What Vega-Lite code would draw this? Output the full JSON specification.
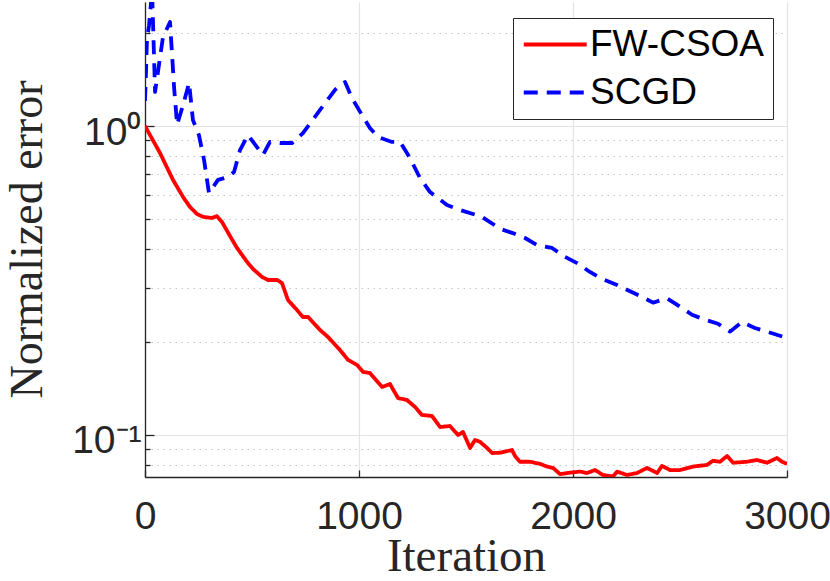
{
  "$schema": "https://vega.github.io/schema/vega-lite/v6.json",
  "autosize": {"type": "none"},
  "padding": {"left": 145, "top": 2, "right": 43, "bottom": 104},
  "width": 642,
  "height": 475,
  "background": "white",
  "config": {"view": {"stroke": null}},
  "data": {
    "values": [
      {"series": "FW-CSOA", "iter": 0, "err": 1.0},
      {"series": "FW-CSOA", "iter": 70, "err": 0.818},
      {"series": "FW-CSOA", "iter": 131, "err": 0.669},
      {"series": "FW-CSOA", "iter": 178, "err": 0.589},
      {"series": "FW-CSOA", "iter": 210, "err": 0.547},
      {"series": "FW-CSOA", "iter": 243, "err": 0.519},
      {"series": "FW-CSOA", "iter": 271, "err": 0.508},
      {"series": "FW-CSOA", "iter": 313, "err": 0.504},
      {"series": "FW-CSOA", "iter": 336, "err": 0.511},
      {"series": "FW-CSOA", "iter": 360, "err": 0.489},
      {"series": "FW-CSOA", "iter": 397, "err": 0.4406},
      {"series": "FW-CSOA", "iter": 430, "err": 0.4029},
      {"series": "FW-CSOA", "iter": 481, "err": 0.3601},
      {"series": "FW-CSOA", "iter": 505, "err": 0.3445},
      {"series": "FW-CSOA", "iter": 547, "err": 0.3246},
      {"series": "FW-CSOA", "iter": 575, "err": 0.3174},
      {"series": "FW-CSOA", "iter": 617, "err": 0.3174},
      {"series": "FW-CSOA", "iter": 640, "err": 0.3104},
      {"series": "FW-CSOA", "iter": 668, "err": 0.2735},
      {"series": "FW-CSOA", "iter": 710, "err": 0.2538},
      {"series": "FW-CSOA", "iter": 738, "err": 0.2409},
      {"series": "FW-CSOA", "iter": 762, "err": 0.2409},
      {"series": "FW-CSOA", "iter": 818, "err": 0.2187},
      {"series": "FW-CSOA", "iter": 855, "err": 0.2075},
      {"series": "FW-CSOA", "iter": 911, "err": 0.1884},
      {"series": "FW-CSOA", "iter": 949, "err": 0.1749},
      {"series": "FW-CSOA", "iter": 991, "err": 0.1685},
      {"series": "FW-CSOA", "iter": 1019, "err": 0.1599},
      {"series": "FW-CSOA", "iter": 1051, "err": 0.1587},
      {"series": "FW-CSOA", "iter": 1108, "err": 0.143},
      {"series": "FW-CSOA", "iter": 1145, "err": 0.1462},
      {"series": "FW-CSOA", "iter": 1182, "err": 0.1317},
      {"series": "FW-CSOA", "iter": 1224, "err": 0.1298},
      {"series": "FW-CSOA", "iter": 1262, "err": 0.1232},
      {"series": "FW-CSOA", "iter": 1294, "err": 0.1161},
      {"series": "FW-CSOA", "iter": 1341, "err": 0.1152},
      {"series": "FW-CSOA", "iter": 1379, "err": 0.1061},
      {"series": "FW-CSOA", "iter": 1425, "err": 0.1069},
      {"series": "FW-CSOA", "iter": 1463, "err": 0.1},
      {"series": "FW-CSOA", "iter": 1486, "err": 0.1023},
      {"series": "FW-CSOA", "iter": 1519, "err": 0.0908},
      {"series": "FW-CSOA", "iter": 1542, "err": 0.0963},
      {"series": "FW-CSOA", "iter": 1565, "err": 0.0951},
      {"series": "FW-CSOA", "iter": 1598, "err": 0.0908},
      {"series": "FW-CSOA", "iter": 1622, "err": 0.0874},
      {"series": "FW-CSOA", "iter": 1659, "err": 0.0876},
      {"series": "FW-CSOA", "iter": 1715, "err": 0.0894},
      {"series": "FW-CSOA", "iter": 1729, "err": 0.0855},
      {"series": "FW-CSOA", "iter": 1752, "err": 0.0819},
      {"series": "FW-CSOA", "iter": 1799, "err": 0.0819},
      {"series": "FW-CSOA", "iter": 1846, "err": 0.0806},
      {"series": "FW-CSOA", "iter": 1879, "err": 0.079},
      {"series": "FW-CSOA", "iter": 1907, "err": 0.0782},
      {"series": "FW-CSOA", "iter": 1939, "err": 0.0747},
      {"series": "FW-CSOA", "iter": 1986, "err": 0.0755},
      {"series": "FW-CSOA", "iter": 2033, "err": 0.0761},
      {"series": "FW-CSOA", "iter": 2065, "err": 0.0753},
      {"series": "FW-CSOA", "iter": 2103, "err": 0.077},
      {"series": "FW-CSOA", "iter": 2140, "err": 0.0742},
      {"series": "FW-CSOA", "iter": 2187, "err": 0.0734},
      {"series": "FW-CSOA", "iter": 2206, "err": 0.0761},
      {"series": "FW-CSOA", "iter": 2252, "err": 0.0742},
      {"series": "FW-CSOA", "iter": 2299, "err": 0.0753},
      {"series": "FW-CSOA", "iter": 2346, "err": 0.0782},
      {"series": "FW-CSOA", "iter": 2393, "err": 0.0753},
      {"series": "FW-CSOA", "iter": 2416, "err": 0.0794},
      {"series": "FW-CSOA", "iter": 2453, "err": 0.077},
      {"series": "FW-CSOA", "iter": 2500, "err": 0.077},
      {"series": "FW-CSOA", "iter": 2561, "err": 0.079},
      {"series": "FW-CSOA", "iter": 2626, "err": 0.08},
      {"series": "FW-CSOA", "iter": 2654, "err": 0.0825},
      {"series": "FW-CSOA", "iter": 2687, "err": 0.0819},
      {"series": "FW-CSOA", "iter": 2720, "err": 0.0855},
      {"series": "FW-CSOA", "iter": 2748, "err": 0.0813},
      {"series": "FW-CSOA", "iter": 2813, "err": 0.0819},
      {"series": "FW-CSOA", "iter": 2860, "err": 0.083},
      {"series": "FW-CSOA", "iter": 2907, "err": 0.0813},
      {"series": "FW-CSOA", "iter": 2953, "err": 0.0842},
      {"series": "FW-CSOA", "iter": 2977, "err": 0.0819},
      {"series": "FW-CSOA", "iter": 3000, "err": 0.0806},
      {"series": "SCGD", "iter": 0, "err": 1.205},
      {"series": "SCGD", "iter": 5, "err": 1.518},
      {"series": "SCGD", "iter": 9, "err": 1.9},
      {"series": "SCGD", "iter": 19, "err": 2.12},
      {"series": "SCGD", "iter": 33, "err": 2.75},
      {"series": "SCGD", "iter": 47, "err": 1.289},
      {"series": "SCGD", "iter": 84, "err": 1.94},
      {"series": "SCGD", "iter": 117, "err": 2.17},
      {"series": "SCGD", "iter": 136, "err": 1.33},
      {"series": "SCGD", "iter": 150, "err": 1.01},
      {"series": "SCGD", "iter": 178, "err": 1.17},
      {"series": "SCGD", "iter": 206, "err": 1.38},
      {"series": "SCGD", "iter": 224, "err": 1.045},
      {"series": "SCGD", "iter": 252, "err": 0.935},
      {"series": "SCGD", "iter": 276, "err": 0.776},
      {"series": "SCGD", "iter": 299, "err": 0.607},
      {"series": "SCGD", "iter": 341, "err": 0.669},
      {"series": "SCGD", "iter": 388, "err": 0.684},
      {"series": "SCGD", "iter": 416, "err": 0.71},
      {"series": "SCGD", "iter": 444, "err": 0.836},
      {"series": "SCGD", "iter": 481, "err": 0.935},
      {"series": "SCGD", "iter": 551, "err": 0.806},
      {"series": "SCGD", "iter": 584, "err": 0.888},
      {"series": "SCGD", "iter": 631, "err": 0.881},
      {"series": "SCGD", "iter": 687, "err": 0.881},
      {"series": "SCGD", "iter": 738, "err": 0.949},
      {"series": "SCGD", "iter": 818, "err": 1.127},
      {"series": "SCGD", "iter": 888, "err": 1.31},
      {"series": "SCGD", "iter": 935, "err": 1.387},
      {"series": "SCGD", "iter": 967, "err": 1.232},
      {"series": "SCGD", "iter": 1014, "err": 1.085},
      {"series": "SCGD", "iter": 1051, "err": 0.985},
      {"series": "SCGD", "iter": 1089, "err": 0.921},
      {"series": "SCGD", "iter": 1154, "err": 0.888},
      {"series": "SCGD", "iter": 1192, "err": 0.888},
      {"series": "SCGD", "iter": 1238, "err": 0.788},
      {"series": "SCGD", "iter": 1285, "err": 0.679},
      {"series": "SCGD", "iter": 1332, "err": 0.611},
      {"series": "SCGD", "iter": 1411, "err": 0.555},
      {"series": "SCGD", "iter": 1472, "err": 0.535},
      {"series": "SCGD", "iter": 1575, "err": 0.508},
      {"series": "SCGD", "iter": 1659, "err": 0.465},
      {"series": "SCGD", "iter": 1715, "err": 0.451},
      {"series": "SCGD", "iter": 1776, "err": 0.434},
      {"series": "SCGD", "iter": 1832, "err": 0.412},
      {"series": "SCGD", "iter": 1902, "err": 0.403},
      {"series": "SCGD", "iter": 1963, "err": 0.377},
      {"series": "SCGD", "iter": 2019, "err": 0.36},
      {"series": "SCGD", "iter": 2079, "err": 0.337},
      {"series": "SCGD", "iter": 2136, "err": 0.32},
      {"series": "SCGD", "iter": 2206, "err": 0.306},
      {"series": "SCGD", "iter": 2257, "err": 0.294},
      {"series": "SCGD", "iter": 2322, "err": 0.28},
      {"series": "SCGD", "iter": 2374, "err": 0.268},
      {"series": "SCGD", "iter": 2439, "err": 0.277},
      {"series": "SCGD", "iter": 2500, "err": 0.26},
      {"series": "SCGD", "iter": 2556, "err": 0.245},
      {"series": "SCGD", "iter": 2617, "err": 0.236},
      {"series": "SCGD", "iter": 2678, "err": 0.229},
      {"series": "SCGD", "iter": 2734, "err": 0.216},
      {"series": "SCGD", "iter": 2790, "err": 0.232},
      {"series": "SCGD", "iter": 2850, "err": 0.222},
      {"series": "SCGD", "iter": 2907, "err": 0.216},
      {"series": "SCGD", "iter": 3000, "err": 0.206}
    ]
  },
  "mark": {"type": "line", "strokeWidth": 3.8, "clip": true, "strokeJoin": "round"},
  "encoding": {
    "x": {
      "field": "iter",
      "type": "quantitative",
      "scale": {"domain": [0, 3000], "nice": false, "zero": false},
      "axis": {
        "title": "Iteration",
        "titleFont": "Liberation Serif",
        "titleFontSize": 47,
        "titleFontWeight": "normal",
        "titleColor": "#262626",
        "titleBaseline": "alphabetic",
        "titleY": 93,
        "values": [0, 1000, 2000, 3000],
        "format": "d",
        "labelFont": "Liberation Sans",
        "labelFontSize": 39,
        "labelColor": "#262626",
        "labelPadding": 27,
        "labelFlush": false,
        "domainColor": "#262626",
        "domainWidth": 1.3,
        "tickColor": "#262626",
        "tickSize": -7,
        "tickWidth": 1.3,
        "grid": true,
        "gridColor": "#e3e3e3",
        "gridWidth": 1.2
      }
    },
    "y": {
      "field": "err",
      "type": "quantitative",
      "scale": {"type": "log", "domain": [0.0731, 2.52], "nice": false, "zero": false},
      "axis": {
        "title": "Normalized error",
        "titleFont": "Liberation Serif",
        "titleFontSize": 46,
        "titleFontWeight": "normal",
        "titleColor": "#262626",
        "titleBaseline": "alphabetic",
        "titleX": -104,
        "titleY": 237,
        "values": [0.08, 0.09, 0.1, 0.2, 0.3, 0.4, 0.5, 0.6, 0.7, 0.8, 0.9, 1, 2],
        "labelExpr": "datum.value == 1 ? '10⁰' : datum.value == 0.1 ? '10⁻¹' : ''",
        "labelFont": "Liberation Sans",
        "labelFontSize": 39,
        "labelColor": "#262626",
        "labelPadding": 13,
        "labelOffset": 6,
        "labelFlush": false,
        "labelOverlap": false,
        "domainColor": "#262626",
        "domainWidth": 1.3,
        "tickColor": "#262626",
        "tickWidth": 1.3,
        "tickSize": {"condition": {"test": "datum.value == 1 || datum.value == 0.1", "value": -9}, "value": -5},
        "grid": true,
        "gridColor": {"condition": {"test": "datum.value == 1 || datum.value == 0.1", "value": "#e3e3e3"}, "value": "#c4c4c4"},
        "gridDash": {"condition": {"test": "datum.value == 1 || datum.value == 0.1", "value": []}, "value": [1.5, 4.5]},
        "gridWidth": 1.2
      }
    },
    "color": {
      "field": "series",
      "type": "nominal",
      "scale": {"domain": ["FW-CSOA", "SCGD"], "range": ["#ff0000", "#0000ff"]},
      "legend": {
        "title": null,
        "orient": "none",
        "legendX": 368,
        "legendY": 16,
        "labelFont": "Liberation Sans",
        "labelFontSize": 37,
        "labelColor": "black",
        "labelLimit": 0,
        "labelOffset": 32,
        "symbolType": "M-1,0H3",
        "symbolSize": 992,
        "symbolStrokeWidth": 3.8,
        "strokeColor": "#262626",
        "fillColor": "white",
        "padding": 8,
        "rowPadding": 10
      }
    },
    "strokeDash": {
      "field": "series",
      "type": "nominal",
      "scale": {"domain": ["FW-CSOA", "SCGD"], "range": [[1, 0], [14, 9]]},
      "legend": {
        "title": null,
        "orient": "none",
        "legendX": 368,
        "legendY": 16,
        "labelFont": "Liberation Sans",
        "labelFontSize": 37,
        "labelColor": "black",
        "labelLimit": 0,
        "labelOffset": 32,
        "symbolType": "M-1,0H3",
        "symbolSize": 992,
        "symbolStrokeWidth": 3.8,
        "strokeColor": "#262626",
        "fillColor": "white",
        "padding": 8,
        "rowPadding": 10
      }
    }
  }
}
